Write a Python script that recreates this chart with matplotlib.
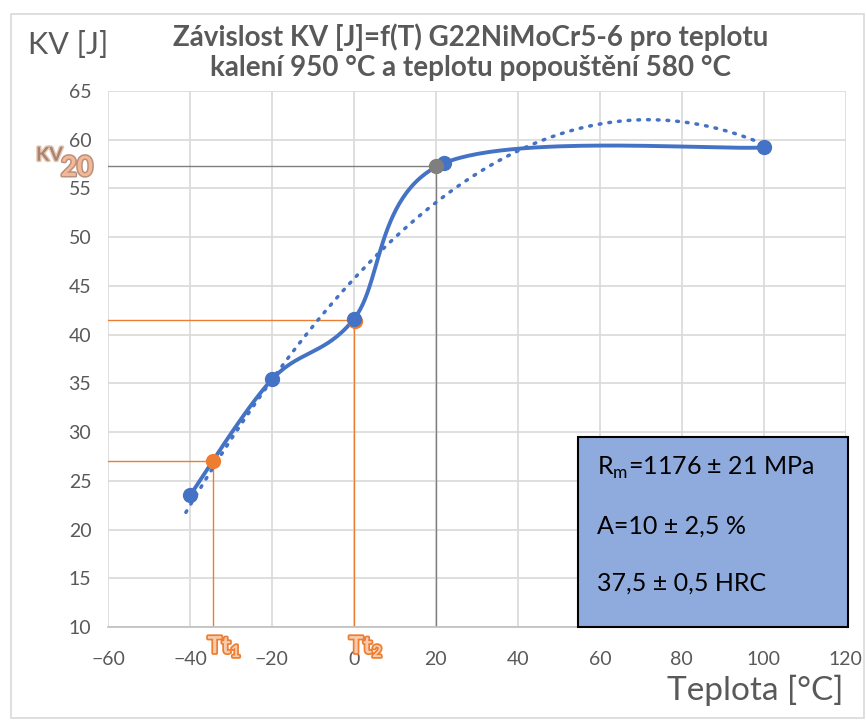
import numpy as np
import matplotlib

matplotlib.use('Agg')

import matplotlib.pyplot as plt
import matplotlib.patheffects as pe
from matplotlib.patches import Rectangle

plt.rcParams['font.family'] = ['Lato', 'DejaVu Sans']

# measured impact energy
temp = [-40, -20, 0, 22, 100]
kv = [23.5, 35.4, 41.6, 57.6, 59.2]

# transition temperatures
tt1 = (-34.5, 27.0)
tt2 = (0, 41.5)
kv20 = (20, 57.3)

x_ticks = list(range(-60, 121, 20))
y_ticks = list(range(10, 66, 5))

info_lines = ['R$_\\mathregular{m}$=1176 ± 21 MPa', 'A=10 ± 2,5 %', '37,5 ± 0,5 HRC']

BLUE = '#4472C4'
ORANGE = '#ED7D31'
GREY = '#595959'


def smooth(xs, ys, n=60, t=1 / 6):
    # excel-like bezier smoothing
    p = np.column_stack([xs, ys]).astype(float)
    pts = []
    for i in range(len(p) - 1):
        p0 = p[max(i - 1, 0)]
        p1 = p[i]
        p2 = p[i + 1]
        p3 = p[min(i + 2, len(p) - 1)]
        c1 = p1 + (p2 - p0) * t
        c2 = p2 - (p3 - p1) * t
        s = np.linspace(0, 1, n)[:, None]
        seg = ((1 - s) ** 3) * p1 + 3 * ((1 - s) ** 2) * s * c1 + 3 * (1 - s) * s ** 2 * c2 + s ** 3 * p2
        pts.append(seg)
    pts = np.vstack(pts)
    return pts[:, 0], pts[:, 1]


fig = plt.figure(figsize=(8.66, 7.22), dpi=100)
ax = fig.add_axes([0.1247, 0.1316, 0.852, 0.7424])

# guide lines
ax.plot([-60, tt1[0], tt1[0]], [tt1[1], tt1[1], 10], color=ORANGE, lw=1.0, zorder=2)
ax.plot([-60, tt2[0], tt2[0]], [tt2[1], tt2[1], 10], color=ORANGE, lw=1.0, zorder=2)
ax.plot([-60, kv20[0], kv20[0]], [kv20[1], kv20[1], 10], color='#7F7F7F', lw=1.0, zorder=2)

# polynomial trendline (2nd order)
coef = np.polyfit(temp, kv, 2)
xt = np.linspace(temp[0] - 1, temp[-1], 200)
ax.plot(xt, np.polyval(coef, xt), color=BLUE, lw=2.5, ls=(0, (0.5, 2.3)),
        dash_capstyle='round', zorder=3)

sx, sy = smooth(temp, kv)
ax.plot(sx, sy, color=BLUE, lw=2.8, zorder=4, solid_capstyle='round')
ax.plot(tt1[0], tt1[1], 'o', color=ORANGE, ms=10, zorder=5)
ax.plot(tt2[0] + 0.3, tt2[1] - 0.1, 'o', color=ORANGE, ms=10, zorder=5)
ax.plot(temp, kv, 'o', color=BLUE, ms=10, zorder=6)
ax.plot(kv20[0], kv20[1], 'o', color='#7F7F7F', ms=10, zorder=7)

ax.set_xlim(-60, 120)
ax.set_ylim(10, 65)
ax.set_xticks(x_ticks)
ax.set_yticks(y_ticks)
ax.grid(True, color='#D9D9D9', lw=1.2)
ax.set_axisbelow(True)
for side in ['top', 'right', 'left']:
    ax.spines[side].set_visible(False)
ax.spines['bottom'].set_color('#BFBFBF')
ax.spines['bottom'].set_linewidth(1.2)
ax.tick_params(length=0, labelsize=14, labelcolor=GREY)
ax.tick_params(axis='x', pad=17)
ax.tick_params(axis='y', pad=12)

fig.text(0.543, 0.968, 'Závislost KV [J]=f(T) G22NiMoCr5-6 pro teplotu\nkalení 950 °C a teplotu popouštění 580 °C',
         ha='center', va='top', fontsize=20, fontweight='bold', color=GREY, linespacing=1.2)
fig.text(0.032, 0.938, 'KV [J]', fontsize=22, color=GREY, va='center')
fig.text(0.974, 0.044, 'Teplota [°C]', fontsize=24, color=GREY, ha='right', va='center')

ax.text(-71, 58.4, 'KV', fontsize=14, fontweight='bold', color='#A88470',
        ha='right', va='center', path_effects=[pe.withStroke(linewidth=2, foreground='#E8C8B4')], clip_on=False)
ax.text(-71.5, 57.1, '20', fontsize=20, fontweight='bold', color='#F4B896',
        ha='left', va='center', path_effects=[pe.withStroke(linewidth=2.2, foreground='#B8907C')], clip_on=False)

for x0, sub in [(tt1[0], '1'), (tt2[0], '2')]:
    ax.text(x0 - 1.2, 9.35, 'Tt$_\\mathregular{%s}$' % sub, fontsize=17, fontweight='bold', color='#F8CBAD',
            ha='left', va='top', path_effects=[pe.withStroke(linewidth=2.5, foreground=ORANGE)], clip_on=False)

# info box
box = Rectangle((0.6675, 0.1316), 0.312, 0.263, transform=fig.transFigure,
                facecolor='#8FAADC', edgecolor='black', lw=1.5, zorder=10)
fig.patches.append(box)
for y0, line in zip([0.352, 0.272, 0.193], info_lines):
    fig.text(0.689, y0, line, fontsize=18, color='black', va='center', zorder=11)

# chart border
fig.patches.append(Rectangle((0.013, 0.005), 0.985, 0.975, transform=fig.transFigure,
                             facecolor='none', edgecolor='#D9D9D9', lw=1.2))

plt.savefig('out.png', dpi=100)
